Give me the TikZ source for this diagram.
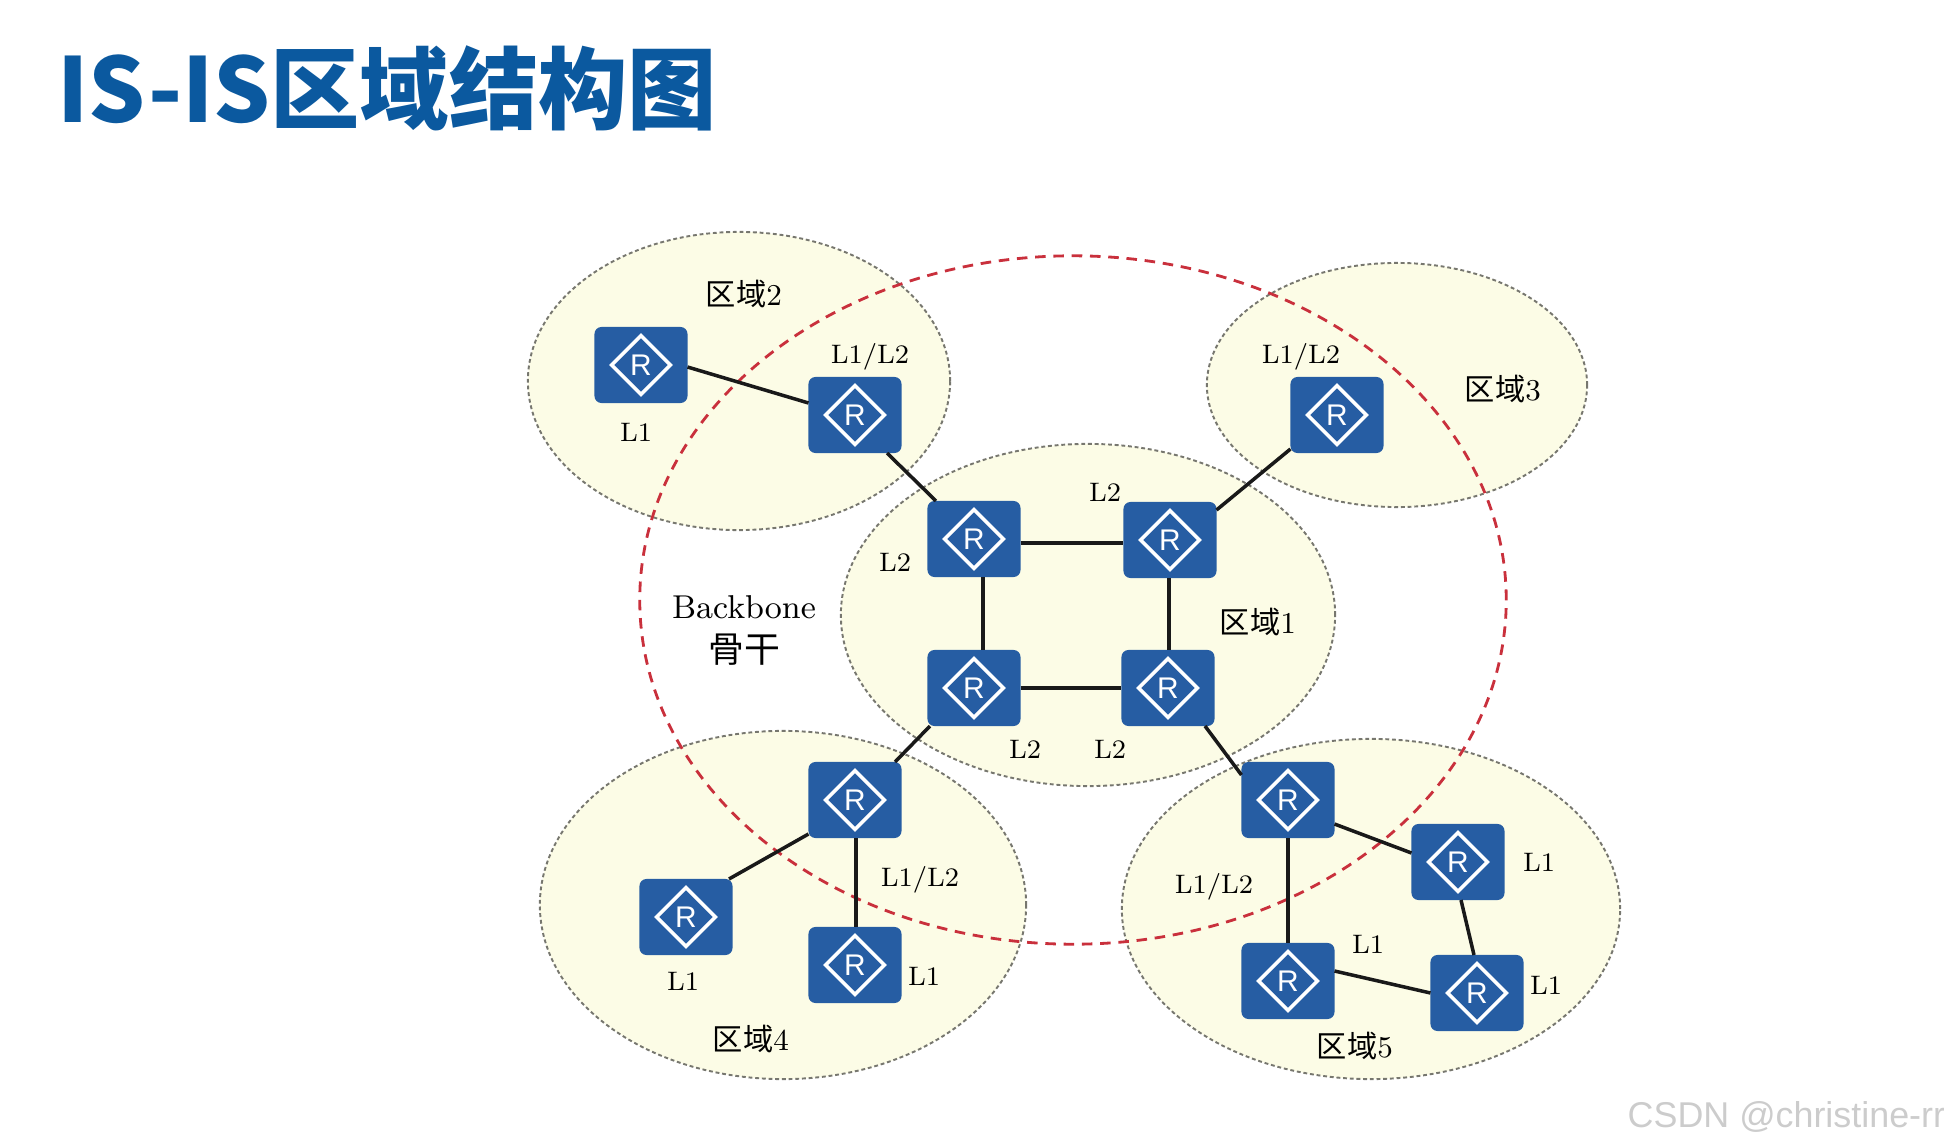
\documentclass[tikz,border=0pt]{standalone}
\usepackage{xcolor}
\usepackage{fontspec}
\usetikzlibrary{
  positioning,
  shapes.geometric
}
\newfontfamily\cjk{Noto Sans CJK SC}
\newfontfamily\sansr{Liberation Sans}
\definecolor{routerblue}{HTML}{265DA3}
\definecolor{titleblue}{HTML}{0B599F}
\definecolor{regionfill}{HTML}{FCFCE6}
\definecolor{regionline}{HTML}{77776F}
\definecolor{backbonered}{HTML}{C9303C}
\begin{document}
\begin{tikzpicture}[
    x=0.01cm,
    y=-0.01cm,
    region/.style={ellipse,draw=regionline,fill=regionfill,line width=0.55pt,
      dash pattern=on 1.1pt off 0.8pt,inner sep=0pt,outer sep=0pt},
    backbone/.style={ellipse,draw=backbonered,line width=0.8pt,
      dash pattern=on 3pt off 2.2pt,inner sep=0pt,outer sep=0pt},
    router/.style={rectangle,rounded corners=0.07cm,fill=routerblue,
      minimum width=0.93cm,minimum height=0.76cm,inner sep=0pt,outer sep=0pt},
    routermark/.style={diamond,draw=white,line width=1pt,text=white,aspect=1,
      minimum size=0.6cm,inner sep=0pt,font=\sansr\fontsize{8.5}{9}\selectfont},
    link/.style={line width=1pt,black!90},
    lbl/.style={inner sep=0pt,text=black,font=\fontsize{7.6}{9}\selectfont},
    arealbl/.style={lbl,font=\fontsize{8.6}{10}\selectfont}
    ]

    \useasboundingbox (0,0) rectangle (1944,1145);

    \node[anchor=west,inner sep=0pt,text=titleblue,
      font=\cjk\bfseries\fontsize{25.4}{28}\selectfont] (title) at (57,88) {IS-IS区域结构图};

    % regions
    \node[region,minimum width=4.22cm,minimum height=2.98cm] (area2) at (739,381) {};
    \node[region,minimum width=3.80cm,minimum height=2.44cm] (area3) at (1397,385) {};
    \node[region,minimum width=4.94cm,minimum height=3.42cm] (area1) at (1088,615) {};
    \node[region,minimum width=4.86cm,minimum height=3.48cm] (area4) at (783,905) {};
    \node[region,minimum width=4.98cm,minimum height=3.40cm] (area5) at (1371,909) {};
    \node[backbone,minimum width=8.66cm,minimum height=6.88cm] (core) at (1073,600) {};

    % routers
    \node[router] (a2left) at (641,365) {};
    \node[router] (a2abr) at (855,415) {};
    \node[router] (a1tl) at (974,539) {};
    \node[router] (a1tr) at (1170,540) {};
    \node[router] (a1bl) at (974,688) {};
    \node[router] (a1br) at (1168,688) {};
    \node[router] (a3abr) at (1337,415) {};
    \node[router] (a4abr) at (855,800) {};
    \node[router] (a4left) at (686,917) {};
    \node[router] (a4right) at (855,965) {};
    \node[router] (a5abr) at (1288,800) {};
    \node[router] (a5right) at (1458,862) {};
    \node[router] (a5low) at (1288,981) {};
    \node[router] (a5end) at (1477,993) {};

    \foreach \n in {a2left,a2abr,a1tl,a1tr,a1bl,a1br,a3abr,a4abr,a4left,a4right,a5abr,a5right,a5low,a5end}
      \node[routermark] (\n-r) at (\n) {R};

    % links
    \draw[link] ([yshift=-0.02cm]a2left.east) -- ([yshift=0.12cm]a2abr.west);
    \draw[link] ([xshift=0.32cm]a2abr.south) -- ([xshift=-0.38cm]a1tl.north);
    \draw[link] ([yshift=-0.04cm]a1tl.east) -- ([yshift=-0.03cm]a1tr.west);
    \draw[link] ([xshift=0.09cm]a1tl.south) -- ([xshift=0.09cm]a1bl.north);
    \draw[link] ([xshift=-0.01cm]a1tr.south) -- ([xshift=0.01cm]a1br.north);
    \draw[link] (a1bl.east) -- (a1br.west);
    \draw[link] ([yshift=0.30cm]a1tr.east) -- ([yshift=-0.34cm]a3abr.west);
    \draw[link] ([xshift=-0.44cm]a1bl.south) -- ([xshift=0.40cm]a4abr.north);
    \draw[link] ([yshift=-0.34cm]a4abr.west) -- ([xshift=0.43cm]a4left.north);
    \draw[link] ([xshift=0.01cm]a4abr.south) -- ([xshift=0.01cm]a4right.north);
    \draw[link] ([xshift=0.37cm]a1br.south) -- ([yshift=0.25cm]a5abr.west);
    \draw[link] ([yshift=-0.24cm]a5abr.east) -- ([yshift=0.09cm]a5right.west);
    \draw[link] (a5abr.south) -- (a5low.north);
    \draw[link] ([xshift=0.03cm]a5right.south) -- ([xshift=-0.03cm]a5end.north);
    \draw[link] ([yshift=0.10cm]a5low.east) -- (a5end.west);

    % labels
    \node[arealbl] (name2) at (744,294) {{\cjk 区域}2};
    \node[arealbl] (name3) at (1503,389) {{\cjk 区域}3};
    \node[arealbl] (name1) at (1258,622) {{\cjk 区域}1};
    \node[arealbl] (name4) at (751,1039) {{\cjk 区域}4};
    \node[arealbl] (name5) at (1355,1046) {{\cjk 区域}5};

    \node[lbl,font=\fontsize{9.4}{11}\selectfont] (bone) at (744,607) {Backbone};
    \node[lbl,font=\cjk\fontsize{10.2}{11}\selectfont] (bonecn) at (744,650) {骨干};

    \node[lbl] (t2abr) at (870,357) {L1/L2};
    \node[lbl] (t2left) at (636,432) {L1};
    \node[lbl] (t3abr) at (1301,357) {L1/L2};
    \node[lbl] (t1top) at (1105,492) {L2};
    \node[lbl] (t1left) at (895,562) {L2};
    \node[lbl] (t1bl) at (1025,749) {L2};
    \node[lbl] (t1br) at (1110,749) {L2};
    \node[lbl] (t4abr) at (920,880) {L1/L2};
    \node[lbl] (t4left) at (683,981) {L1};
    \node[lbl] (t4right) at (924,976) {L1};
    \node[lbl] (t5abr) at (1214,887) {L1/L2};
    \node[lbl] (t5low) at (1368,944) {L1};
    \node[lbl] (t5right) at (1539,862) {L1};
    \node[lbl] (t5end) at (1546,985) {L1};

    \node[anchor=west,inner sep=0pt,text=black!20,
      font=\sansr\fontsize{10.2}{12}\selectfont] (mark) at (1627,1117) {CSDN @christine-rr};

    \end{tikzpicture}
\end{document}
